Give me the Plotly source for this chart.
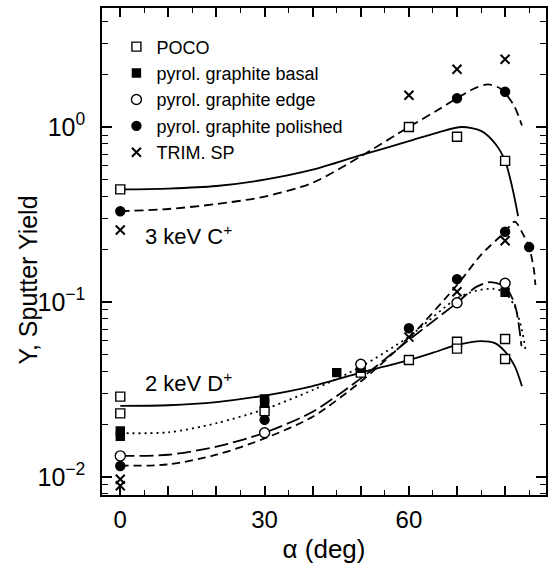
import plotly.graph_objects as go

# ---------------- measured data ----------------
# 3 keV C+
c_poco_x = [0, 60, 70, 80]
c_poco_y = [0.44, 1.0, 0.88, 0.64]
c_pol_x = [0, 70, 80]
c_pol_y = [0.33, 1.46, 1.59]
c_trim_x = [0, 60, 70, 80]
c_trim_y = [0.258, 1.52, 2.14, 2.44]
# 2 keV D+
d_poco_x = [0, 0, 30, 50, 60, 70, 70, 80, 80]
d_poco_y = [0.0288, 0.0231, 0.0238, 0.0395, 0.0466, 0.0593, 0.0541, 0.0615, 0.0472]
d_basal_x = [0, 0, 30, 30, 45, 50, 80]
d_basal_y = [0.0183, 0.0171, 0.0279, 0.0264, 0.0395, 0.0418, 0.1136]
d_edge_x = [0, 30, 50, 70, 80]
d_edge_y = [0.0132, 0.0179, 0.0441, 0.099, 0.128]
d_pol_x = [0, 30, 60, 70, 80, 85]
d_pol_y = [0.01156, 0.0212, 0.0708, 0.135, 0.252, 0.206]
d_trim_x = [0, 0, 60, 70, 80]
d_trim_y = [0.0097, 0.0089, 0.063, 0.1145, 0.224]

# ---------------- fitted curves ----------------
fit_c_poco_x = [0, 10, 20, 30, 40, 50, 60, 66, 71, 75, 78, 80, 81.5, 82.7]
fit_c_poco_y = [0.44, 0.445, 0.46, 0.50, 0.57, 0.69, 0.83, 0.93, 1.0, 0.95, 0.80, 0.64, 0.45, 0.31]
fit_c_pol_x = [0, 10, 20, 30, 40, 50, 60, 66, 70, 74, 76.5, 79, 80.5, 82, 83.5]
fit_c_pol_y = [0.33, 0.34, 0.363, 0.40, 0.48, 0.68, 1.0, 1.25, 1.46, 1.68, 1.75, 1.66, 1.5, 1.3, 1.02]

fit_d_poco_x = [0, 10, 20, 30, 40, 50, 60, 65, 70, 75, 78, 80, 82, 83.5]
fit_d_poco_y = [0.0255, 0.0257, 0.0268, 0.0292, 0.0331, 0.0395, 0.0466, 0.0513, 0.0568, 0.0598, 0.058, 0.052, 0.043, 0.033]
fit_d_basal_x = [0, 10, 20, 30, 40, 50, 60, 70, 74, 77.5, 80, 82, 83.5, 84.3]
fit_d_basal_y = [0.0178, 0.018, 0.0203, 0.0244, 0.0314, 0.0427, 0.0634, 0.105, 0.116, 0.119, 0.113, 0.094, 0.069, 0.052]
fit_d_edge_x = [0, 10, 20, 30, 40, 50, 60, 70, 74, 77, 80, 82, 83.4]
fit_d_edge_y = [0.0132, 0.0134, 0.0149, 0.0179, 0.0236, 0.0366, 0.0607, 0.099, 0.122, 0.13, 0.122, 0.097, 0.056]
fit_d_pol_x = [0, 10, 20, 30, 40, 50, 60, 70, 75, 80, 82, 84, 85, 86, 86.3]
fit_d_pol_y = [0.0116, 0.0118, 0.0134, 0.0166, 0.0221, 0.0351, 0.0621, 0.125, 0.186, 0.252, 0.288, 0.236, 0.206, 0.152, 0.125]

# ---------------- ticks ----------------
x_tickvals = [0, 10, 20, 30, 40, 50, 60, 70, 80]
x_ticktext = ["0", "", "", "30", "", "", "60", "", ""]
x_minor = [5, 15, 25, 35, 45, 55, 65, 75, 85]
y_tickvals = [0.01, 0.1, 1]
y_ticktext = ["10<sup>\u22122</sup>", "10<sup>\u22121</sup>", "10<sup>0</sup>"]
y_decades = [0.001, 0.01, 0.1, 1]
y_mult = [2, 3, 4, 5, 6, 7, 8, 9]
y_minor = [m * d for d in y_decades for m in y_mult]

XR = [-3.8, 88.5]
YR = [-2.103, 0.68]
FONT = "Liberation Sans, Arial, Helvetica, sans-serif"
fig = go.Figure()

def curve(x, y, dash):
    fig.add_trace(go.Scatter(x=x, y=y, mode="lines",
                             line=dict(color="black", width=1.8, dash=dash, shape="spline", smoothing=0.8),
                             showlegend=False, hoverinfo="skip"))

curve(fit_c_poco_x, fit_c_poco_y, "solid")
curve(fit_c_pol_x, fit_c_pol_y, "9px,5px")
curve(fit_d_poco_x, fit_d_poco_y, "solid")
curve(fit_d_basal_x, fit_d_basal_y, "2px,4px")
curve(fit_d_edge_x, fit_d_edge_y, "14px,5px")
curve(fit_d_pol_x, fit_d_pol_y, "8px,5px")

def pts(name, x, y, symbol, size, fill):
    fig.add_trace(go.Scatter(x=x, y=y, mode="markers", name=name,
                             marker=dict(symbol=symbol, size=size, color=fill,
                                         line=dict(color="black", width=1.4))))

pts("POCO", c_poco_x + d_poco_x, c_poco_y + d_poco_y, "square", 9, "white")
pts("pyrol. graphite basal", d_basal_x, d_basal_y, "square", 8, "black")
pts("pyrol. graphite edge", d_edge_x, d_edge_y, "circle", 10, "white")
pts("pyrol. graphite polished", c_pol_x + d_pol_x, c_pol_y + d_pol_y, "circle", 9, "black")
fig.add_trace(go.Scatter(x=c_trim_x + d_trim_x, y=c_trim_y + d_trim_y, mode="markers", name="TRIM. SP",
                         marker=dict(symbol="x-thin", size=9, color="black", line=dict(color="black", width=2))))

# invisible trace carrying the minor-tick overlay axes
fig.add_trace(go.Scatter(x=[None], y=[None], xaxis="x2", yaxis="y2", showlegend=False, hoverinfo="skip"))

fig.add_annotation(x=0.092, xref="paper", y=-0.62, yref="y", text="3 keV C<sup>+</sup>", showarrow=False,
                   xanchor="left", yanchor="middle", font=dict(size=22, family=FONT, color="black"))
fig.add_annotation(x=0.092, xref="paper", y=-1.46, yref="y", text="2 keV D<sup>+</sup>", showarrow=False,
                   xanchor="left", yanchor="middle", font=dict(size=22, family=FONT, color="black"))
# y-axis title
fig.add_annotation(x=-0.166, xref="paper", y=0.441, yref="paper", text="Y, Sputter Yield", showarrow=False,
                   textangle=-90, xanchor="center", yanchor="middle",
                   font=dict(size=25, family=FONT, color="black"))

line_common = dict(showline=True, linecolor="black", linewidth=1.5, tickcolor="black",
                   showgrid=False, zeroline=False)

fig.update_layout(
    template="simple_white",
    width=550, height=568, margin=dict(l=102, r=2, t=8, b=73),
    plot_bgcolor="white", paper_bgcolor="white",
    font=dict(family=FONT, color="black"),
    xaxis=dict(range=XR, tickmode="array", tickvals=x_tickvals, ticktext=x_ticktext, ticks="inside",
               mirror="allticks", ticklen=9, tickwidth=2,
               tickfont=dict(size=24, family=FONT, color="black"), ticklabelstandoff=2,
               title=dict(text="\u03b1 (deg)", font=dict(size=26, family=FONT, color="black"), standoff=8),
               **line_common),
    yaxis=dict(type="log", range=YR, tickmode="array", tickvals=y_tickvals, ticktext=y_ticktext, ticks="inside",
               mirror="allticks", ticklen=10, tickwidth=2,
               tickfont=dict(size=25, family=FONT, color="black"), ticklabelstandoff=10,
               **line_common),
    xaxis2=dict(overlaying="x", anchor="y", side="bottom", range=XR, tickmode="array", tickvals=x_minor,
                ticks="inside", mirror="allticks", ticklen=5, tickwidth=1, showticklabels=False, **line_common),
    yaxis2=dict(overlaying="y", anchor="x", side="left", type="log", range=YR, tickmode="array", tickvals=y_minor,
                ticks="inside", mirror="allticks", ticklen=6, tickwidth=1, showticklabels=False, **line_common),
    legend=dict(x=0.0325, y=0.958, xanchor="left", yanchor="top", bgcolor="rgba(0,0,0,0)",
                font=dict(size=18, family=FONT, color="black"), itemwidth=30, tracegroupgap=0),
)

fig.write_html("out.html", config={"displayModeBar": False},
               post_script="document.body.style.margin='0px';document.body.style.overflow='hidden';")
